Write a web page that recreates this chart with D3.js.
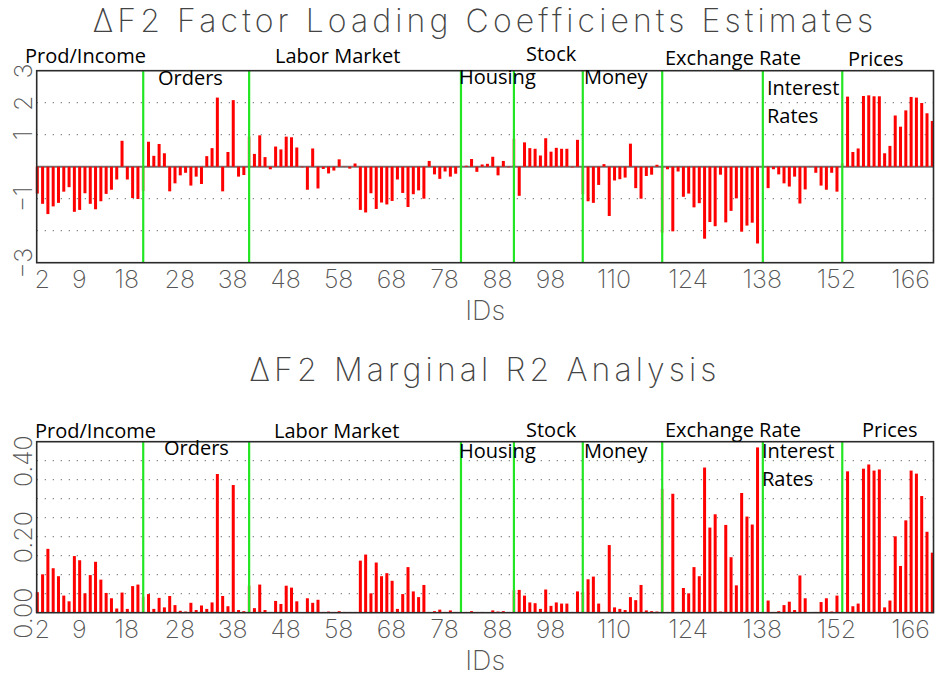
<!DOCTYPE html>
<html>
<head>
<meta charset="utf-8">
<script src="https://cdn.jsdelivr.net/npm/d3@7"></script>
<style>
  body { margin: 0; background: #fff; }
  svg { display: block; }
  .thin { font-family: Inter, "DejaVu Sans", sans-serif; font-weight: 200; fill: #555; }
  .title { font-family: Inter, "DejaVu Sans", sans-serif; font-weight: 200; fill: #444; font-size: 32px; letter-spacing: 4.1px; }
  .group-label { font-family: "Open Sans", sans-serif; font-size: 20px; fill: #000; }
</style>
</head>
<body>
<svg id="chart" width="940" height="677"></svg>
<script>
// series ids 1..170
const ids = d3.range(1, 171);

const loadings = [
  -0.84, -1.16, -1.48, -1.24, -1.13, -0.78, -0.64, -1.41, -1.35, -0.83,
  -1.16, -1.33, -1.08, -0.85, -0.72, -0.40, 0.81, -0.40, -0.98, -1.01,
  -0.76, 0.78, 0.34, 0.71, 0.42, -0.77, -0.52, -0.27, -0.19, -0.59,
  -0.31, -0.54, 0.33, 0.58, 2.16, -0.77, 0.46, 2.08, -0.31, -0.26,
  0.94, 0.40, 0.98, 0.30, -0.08, 0.63, 0.54, 0.94, 0.92, 0.60,
  -0.02, -0.72, 0.57, -0.68, -0.07, -0.21, -0.12, 0.23, -0.01, -0.06,
  0.10, -1.35, -1.43, -0.83, -1.32, -1.12, -1.18, -1.07, -0.40, -0.82,
  -1.26, -0.86, -0.74, -1.00, 0.18, -0.24, -0.38, -0.15, -0.31, -0.22,
  0.02, 0.03, 0.24, -0.16, 0.07, 0.09, 0.31, -0.27, 0.18, -0.02,
  0.87, -0.91, 0.76, 0.58, 0.56, 0.35, 0.89, 0.47, 0.59, 0.56,
  0.56, -0.02, 0.84, -0.86, -1.08, -1.13, -0.57, 0.08, -1.54, -0.43,
  -0.39, -0.34, 0.72, -0.67, -1.00, -0.29, -0.25, 0.06, -2.06, -0.08,
  -2.02, -0.15, -0.94, -0.84, -1.27, -1.14, -2.25, -1.73, -1.86, -0.25,
  -1.74, -1.38, -0.99, -2.03, -1.84, -1.75, -2.40, -0.05, -0.67, -0.08,
  -0.24, -0.52, -0.62, -0.31, -1.15, -0.71, -0.01, -0.19, -0.59, -0.72,
  -0.19, -0.78, 0.10, 2.19, 0.46, 0.57, 2.21, 2.23, 2.20, 2.20,
  0.42, 0.65, 1.60, 1.25, 1.76, 2.18, 2.16, 1.99, 1.67, 1.43
];

const marginalR2 = [
  0.054, 0.101, 0.168, 0.117, 0.096, 0.045, 0.030, 0.149, 0.138, 0.051,
  0.099, 0.134, 0.087, 0.052, 0.038, 0.011, 0.053, 0.010, 0.070, 0.074,
  0.042, 0.049, 0.010, 0.039, 0.014, 0.044, 0.020, 0.005, 0.003, 0.026,
  0.007, 0.019, 0.010, 0.027, 0.365, 0.044, 0.017, 0.336, 0.007, 0.004,
  0.071, 0.012, 0.074, 0.007, 0.002, 0.031, 0.023, 0.071, 0.066, 0.030,
  0.001, 0.038, 0.026, 0.034, 0.002, 0.003, 0.002, 0.004, 0.002, 0.002,
  0.002, 0.137, 0.153, 0.051, 0.132, 0.096, 0.104, 0.084, 0.010, 0.049,
  0.120, 0.056, 0.041, 0.073, 0.002, 0.004, 0.008, 0.002, 0.006, 0.002,
  0.001, 0.002, 0.004, 0.002, 0.002, 0.001, 0.006, 0.003, 0.004, 0.002,
  0.059, 0.060, 0.045, 0.027, 0.025, 0.010, 0.061, 0.018, 0.027, 0.024,
  0.024, 0.002, 0.056, 0.054, 0.088, 0.095, 0.024, 0.002, 0.178, 0.014,
  0.010, 0.007, 0.041, 0.033, 0.073, 0.006, 0.004, 0.003, 0.326, 0.002,
  0.313, 0.002, 0.065, 0.051, 0.120, 0.096, 0.382, 0.224, 0.259, 0.003,
  0.231, 0.146, 0.072, 0.315, 0.253, 0.232, 0.435, 0.002, 0.032, 0.002,
  0.004, 0.020, 0.029, 0.007, 0.098, 0.038, 0.001, 0.002, 0.028, 0.038,
  0.003, 0.045, 0.002, 0.372, 0.017, 0.024, 0.379, 0.390, 0.374, 0.377,
  0.014, 0.032, 0.201, 0.123, 0.243, 0.374, 0.366, 0.307, 0.213, 0.158
];

const groupNames = ["Prod/Income", "Orders", "Labor Market", "Housing", "Stock",
                    "Money", "Exchange Rate", "Interest|Rates", "Prices"];
// first id of each group after the first one (green separators)
const groupStarts = [21, 41, 81, 91, 104, 119, 138, 153];

const idTicks = [2, 9, 18, 28, 38, 48, 58, 68, 78, 88, 98, 110, 124, 138, 152, 166];
const loadingTicks = [3, 2, 1, -1, -3];
const loadingGrid = [2, 1, -1, -2];
const r2Ticks = [0, 0.2, 0.4];
const r2Grid = [0.05, 0.10, 0.15, 0.20, 0.25, 0.30, 0.35, 0.40];

const titles = ["\u0394F2 Factor Loading Coefficients Estimates", "\u0394F2 Marginal R2 Analysis"];

// layout
const svg = d3.select("#chart");
const plotLeft = 36.7, plotRight = 933.5;
const x = d3.scaleLinear().domain([1, 170]).range([37.3, 932.3]);
const barWidth = 3;

const panels = [
  {
    values: loadings, domain: [-3, 3], range: [262.7, 70.7],
    ticks: loadingTicks, grid: loadingGrid, fmt: d3.format("d"), zeroLine: true,
    title: titles[0], titleY: 32, xLabelY: 288, idsY: 320,
    labelPos: [[25, 62.5], [158, 85], [275, 62.5], [459, 84], [526, 61],
               [584, 84], [665, 65], [767, 95], [848, 65.5]]
  },
  {
    values: marginalR2, domain: [0, 0.45], range: [612.7, 441.7],
    ticks: r2Ticks, grid: r2Grid, fmt: d3.format(".2f"), zeroLine: false,
    title: titles[1], titleY: 381, xLabelY: 638, idsY: 670,
    labelPos: [[35, 438], [164, 455], [274, 438], [459, 458], [526, 437],
               [584, 458], [665, 437], [762, 458], [862, 437]]
  }
];

const drawPanel = (p) => {
  const y = d3.scaleLinear().domain(p.domain).range(p.range);
  const top = p.range[1], bottom = p.range[0];
  const g = svg.append("g");

  // dotted grid
  g.selectAll(".grid")
    .data(p.grid)
    .enter().append("line")
      .attr("x1", plotLeft).attr("x2", plotRight)
      .attr("y1", d => y(d)).attr("y2", d => y(d))
      .attr("stroke", "#8a8a8a")
      .attr("stroke-width", 1.2)
      .attr("stroke-dasharray", "1.3,6.7");

  if (p.zeroLine) {
    g.append("line")
      .attr("x1", plotLeft).attr("x2", plotRight)
      .attr("y1", y(0)).attr("y2", y(0))
      .attr("stroke", "#707070")
      .attr("stroke-width", 2);
  }

  // bars
  g.selectAll(".bar")
    .data(ids)
    .enter().append("rect")
      .attr("x", d => x(d) - barWidth / 2)
      .attr("width", barWidth)
      .attr("y", d => y(Math.max(0, p.values[d - 1])))
      .attr("height", d => Math.abs(y(p.values[d - 1]) - y(0)))
      .attr("fill", "#ff0000")
      .attr("opacity", d => groupStarts.includes(d) ? 0.45 : 1);

  // group separators
  g.selectAll(".sep")
    .data(groupStarts)
    .enter().append("line")
      .attr("x1", d => x(d)).attr("x2", d => x(d))
      .attr("y1", top).attr("y2", bottom)
      .attr("stroke", "#22e622")
      .attr("stroke-width", 2.2);

  // frame
  g.append("rect")
    .attr("x", plotLeft).attr("y", top)
    .attr("width", plotRight - plotLeft).attr("height", bottom - top)
    .attr("fill", "none")
    .attr("stroke", "#2a2a2a")
    .attr("stroke-width", 1.6);

  // x tick labels
  const xAxis = g.append("g")
    .attr("transform", `translate(-1, ${p.xLabelY})`)
    .call(d3.axisBottom(x).tickValues(idTicks).tickSize(0).tickPadding(0));
  xAxis.select(".domain").remove();
  xAxis.selectAll("text")
    .attr("class", "thin")
    .attr("y", 0).attr("dy", null)
    .attr("font-size", "25px")
    .attr("fill", "#555");

  // y tick labels (rotated)
  const yAxis = g.append("g")
    .attr("transform", "translate(31.5, 0)")
    .call(d3.axisLeft(y).tickValues(p.ticks).tickFormat(p.fmt).tickSize(0).tickPadding(0));
  yAxis.select(".domain").remove();
  yAxis.selectAll("text")
    .attr("class", "thin")
    .attr("x", 0).attr("y", 0).attr("dy", null)
    .attr("transform", "rotate(-90)")
    .attr("text-anchor", "middle")
    .attr("font-size", "25px")
    .attr("fill", "#555");

  // axis title
  g.append("text")
    .attr("class", "thin")
    .attr("x", (plotLeft + plotRight) / 2)
    .attr("y", p.idsY)
    .attr("text-anchor", "middle")
    .attr("font-size", "27px")
    .text("IDs");

  // panel title
  g.append("text")
    .attr("class", "title")
    .attr("x", (plotLeft + plotRight) / 2)
    .attr("y", p.titleY)
    .attr("text-anchor", "middle")
    .text(p.title);

  // group labels
  groupNames.forEach((name, i) => {
    const [lx, ly] = p.labelPos[i];
    const t = g.append("text")
      .attr("class", "group-label")
      .attr("x", lx).attr("y", ly);
    name.split("|").forEach((part, k) => {
      t.append("tspan")
        .attr("x", lx)
        .attr("dy", k === 0 ? 0 : 27.7)
        .text(part);
    });
  });
};

panels.forEach(drawPanel);
</script>
</body>
</html>
